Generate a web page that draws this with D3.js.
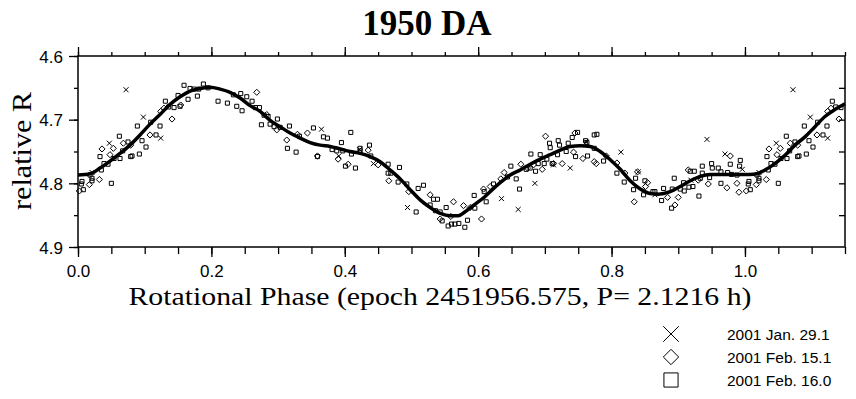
<!DOCTYPE html>
<html>
<head>
<meta charset="utf-8">
<script src="https://cdn.jsdelivr.net/npm/d3@7"></script>
<style>
    body { margin: 0; background: #fff; }
    svg { display: block; }
    .tick text { font-family: "Liberation Sans", Arial, sans-serif; font-size: 17px; fill: #000; }
    .tick line { stroke: #000; stroke-width: 1.3; }
</style>
</head>
<body>
<div id="chart"></div>
<script>
// Values: [rotational phase, relative R]
const jan29 = [
    [0.021,4.783],[0.047,4.737],[0.072,4.653],[0.098,4.696],[0.124,4.729],[0.365,4.715],
    [0.391,4.757],[0.422,4.747],[0.443,4.769],[0.494,4.838],[0.635,4.824],[0.660,4.841],
    [0.685,4.800],[0.713,4.771],[0.738,4.776],[0.762,4.735],[0.814,4.751],[0.840,4.782],
    [0.865,4.818],[0.919,4.795],[0.943,4.731],[0.970,4.754],[0.996,4.778]
];

const feb15 = [
    [0.002,4.812],[0.017,4.802],[0.032,4.794],[0.036,4.746],[0.048,4.755],[0.053,4.745],
    [0.068,4.737],[0.079,4.740],[0.108,4.724],[0.124,4.687],[0.129,4.682],[0.141,4.699],
    [0.154,4.677],[0.268,4.657],[0.283,4.692],[0.298,4.716],[0.313,4.732],[0.329,4.723],
    [0.344,4.721],[0.359,4.757],[0.390,4.762],[0.405,4.770],[0.435,4.748],[0.450,4.771],
    [0.466,4.796],[0.496,4.813],[0.528,4.818],[0.543,4.856],[0.559,4.852],[0.563,4.829],
    [0.578,4.835],[0.588,4.838],[0.605,4.856],[0.608,4.809],[0.618,4.805],[0.634,4.793],
    [0.639,4.783],[0.664,4.770],[0.674,4.776],[0.683,4.771],[0.696,4.778],[0.701,4.726],
    [0.713,4.769],[0.726,4.769],[0.743,4.751],[0.745,4.721],[0.757,4.761],[0.774,4.766],
    [0.777,4.769],[0.792,4.757],[0.808,4.768],[0.820,4.784],[0.834,4.829],[0.839,4.782],
    [0.851,4.805],[0.854,4.799],[0.884,4.822],[0.895,4.834],[0.900,4.822],[0.915,4.779],
    [0.930,4.795],[0.945,4.801],[0.973,4.807],[0.978,4.757],[0.988,4.800],[0.991,4.814]
];

const feb16 = [
    [0.006,4.797],[0.005,4.801],[0.008,4.810],[0.018,4.787],[0.021,4.792],[0.021,4.796],
    [0.033,4.758],[0.035,4.779],[0.039,4.769],[0.045,4.770],[0.050,4.800],[0.054,4.761],
    [0.062,4.726],[0.063,4.761],[0.067,4.749],[0.075,4.735],[0.079,4.758],[0.081,4.757],
    [0.089,4.710],[0.092,4.754],[0.096,4.733],[0.102,4.743],[0.109,4.704],[0.117,4.724],
    [0.123,4.710],[0.131,4.671],[0.136,4.680],[0.144,4.681],[0.150,4.662],[0.153,4.679],
    [0.159,4.646],[0.165,4.668],[0.168,4.651],[0.174,4.652],[0.179,4.663],[0.181,4.652],
    [0.188,4.644],[0.195,4.650],[0.210,4.671],[0.224,4.674],[0.233,4.661],[0.238,4.679],
    [0.244,4.659],[0.246,4.686],[0.253,4.664],[0.261,4.671],[0.266,4.681],[0.272,4.681],
    [0.275,4.708],[0.279,4.693],[0.285,4.695],[0.288,4.707],[0.294,4.711],[0.299,4.699],
    [0.303,4.712],[0.314,4.745],[0.317,4.710],[0.327,4.751],[0.332,4.726],[0.353,4.713],
    [0.359,4.758],[0.368,4.727],[0.374,4.729],[0.381,4.747],[0.388,4.749],[0.395,4.736],
    [0.397,4.749],[0.401,4.773],[0.409,4.720],[0.410,4.754],[0.416,4.776],[0.423,4.745],
    [0.423,4.749],[0.437,4.740],[0.439,4.757],[0.465,4.770],[0.465,4.784],[0.469,4.784],
    [0.480,4.798],[0.482,4.775],[0.493,4.801],[0.507,4.845],[0.510,4.808],[0.518,4.803],
    [0.528,4.834],[0.533,4.825],[0.539,4.825],[0.536,4.843],[0.543,4.845],[0.546,4.859],
    [0.552,4.838],[0.555,4.867],[0.560,4.864],[0.565,4.864],[0.571,4.863],[0.580,4.869],
    [0.584,4.858],[0.594,4.819],[0.595,4.839],[0.609,4.813],[0.612,4.829],[0.623,4.801],
    [0.644,4.790],[0.649,4.773],[0.657,4.793],[0.662,4.809],[0.672,4.778],[0.678,4.776],
    [0.679,4.754],[0.686,4.781],[0.690,4.769],[0.693,4.755],[0.699,4.769],[0.703,4.762],
    [0.707,4.737],[0.708,4.744],[0.711,4.769],[0.719,4.755],[0.720,4.733],[0.722,4.740],
    [0.732,4.750],[0.735,4.737],[0.741,4.728],[0.746,4.758],[0.749,4.720],[0.761,4.733],
    [0.763,4.736],[0.764,4.757],[0.774,4.724],[0.778,4.723],[0.774,4.745],[0.788,4.765],
    [0.808,4.784],[0.819,4.798],[0.833,4.810],[0.836,4.792],[0.848,4.818],[0.850,4.796],
    [0.862,4.813],[0.865,4.813],[0.875,4.827],[0.878,4.808],[0.890,4.839],[0.891,4.809],
    [0.894,4.792],[0.903,4.809],[0.908,4.799],[0.909,4.812],[0.918,4.781],[0.924,4.781],
    [0.916,4.806],[0.922,4.805],[0.931,4.820],[0.933,4.792],[0.936,4.773],[0.936,4.784],
    [0.947,4.791],[0.950,4.769],[0.951,4.776],[0.960,4.776],[0.964,4.782],[0.964,4.800],
    [0.974,4.783],[0.978,4.770],[0.980,4.786],[0.988,4.787],[0.992,4.773],[0.993,4.764]
];

// Fitted light curve
const fitCurve = [
    [0.000,4.787],[0.018,4.785],[0.033,4.776],[0.048,4.765],[0.063,4.753],[0.078,4.740],
    [0.093,4.724],[0.108,4.707],[0.123,4.692],[0.138,4.676],[0.153,4.664],[0.168,4.655],
    [0.183,4.651],[0.198,4.649],[0.213,4.652],[0.228,4.657],[0.243,4.666],[0.258,4.678],
    [0.273,4.687],[0.288,4.701],[0.303,4.711],[0.318,4.721],[0.333,4.729],[0.348,4.736],
    [0.363,4.740],[0.378,4.742],[0.393,4.746],[0.408,4.750],[0.423,4.753],[0.438,4.758],
    [0.453,4.766],[0.468,4.779],[0.483,4.793],[0.498,4.810],[0.513,4.826],[0.528,4.838],
    [0.543,4.847],[0.558,4.851],[0.570,4.851],[0.580,4.845],[0.595,4.833],[0.610,4.821],
    [0.618,4.813],[0.633,4.799],[0.648,4.787],[0.663,4.779],[0.678,4.770],[0.693,4.762],
    [0.708,4.755],[0.723,4.748],[0.738,4.742],[0.753,4.741],[0.768,4.742],[0.783,4.750],
    [0.798,4.763],[0.813,4.778],[0.828,4.796],[0.843,4.809],[0.858,4.816],[0.870,4.817],
    [0.888,4.813],[0.903,4.805],[0.918,4.796],[0.933,4.789],[0.948,4.786],[0.978,4.786],
    [1.007,4.786],[1.018,4.785],[1.030,4.779],[1.045,4.769],[1.060,4.756],[1.075,4.740],
    [1.090,4.727],[1.105,4.711],[1.120,4.695],[1.135,4.684],[1.150,4.675]
];

const xMajorTicks = [0.0, 0.2, 0.4, 0.6, 0.8, 1.0];
const yMajorTicks = [4.6, 4.7, 4.8, 4.9];
const legendLabels = ["2001 Jan. 29.1", "2001 Feb. 15.1", "2001 Feb. 16.0"];

const config = {
    width: 856,
    height: 399,
    plot: { left: 78, right: 845, top: 56, bottom: 247 },
    phaseDomain: [0, 1.15],
    magDomain: [4.6, 4.9],
    serif: "'Liberation Serif', 'Times New Roman', serif"
};

// phases up to 0.15 are plotted again one period later
const wrap = pts => pts.concat(pts.filter(p => p[0] <= config.phaseDomain[1] - 1).map(p => [p[0] + 1, p[1]]));

const x = d3.scaleLinear().domain(config.phaseDomain).range([config.plot.left, config.plot.right]);
const y = d3.scaleLinear().domain(config.magDomain).range([config.plot.top, config.plot.bottom]);

const svg = d3.select("#chart").append("svg")
    .attr("width", config.width)
    .attr("height", config.height);

svg.append("rect").attr("width", config.width).attr("height", config.height).attr("fill", "#fff");

// Axes
const xMinor = d3.range(0, 1.1501, 0.05);
const yMinor = d3.range(4.6, 4.9001, 0.05);

function addAxis(axis, transform) {
    const g = svg.append("g").attr("transform", transform).call(axis);
    g.select(".domain").remove();
    return g;
}

const bottomG = addAxis(d3.axisBottom(x).tickValues(xMajorTicks).tickSize(10).tickFormat(d3.format(".1f")),
    `translate(0,${config.plot.bottom})`);
bottomG.selectAll("text").attr("y", 30).attr("dy", 0);
addAxis(d3.axisBottom(x).tickValues(xMinor).tickSize(7).tickFormat(""), `translate(0,${config.plot.bottom})`);
addAxis(d3.axisTop(x).tickValues(xMajorTicks).tickSize(9).tickFormat(""), `translate(0,${config.plot.top})`);
addAxis(d3.axisTop(x).tickValues(xMinor).tickSize(4).tickFormat(""), `translate(0,${config.plot.top})`);

const leftG = addAxis(d3.axisLeft(y).tickValues(yMajorTicks).tickSize(9).tickFormat(d3.format(".1f")),
    `translate(${config.plot.left},0)`);
leftG.selectAll("text").attr("x", -15).attr("dy", "0.36em");
addAxis(d3.axisLeft(y).tickValues(yMinor).tickSize(4).tickFormat(""), `translate(${config.plot.left},0)`);
addAxis(d3.axisRight(y).tickValues(yMinor.slice(1, -1)).tickSize(-6).tickFormat(""),
    `translate(${config.plot.right},0)`);

// Frame
svg.append("rect")
    .attr("x", config.plot.left)
    .attr("y", config.plot.top)
    .attr("width", config.plot.right - config.plot.left)
    .attr("height", config.plot.bottom - config.plot.top)
    .attr("fill", "none")
    .attr("stroke", "#000")
    .attr("stroke-width", 1.5);

// Data symbols
const series = [
    { data: jan29, type: d3.symbolTimes, size: 18, legendSize: 160 },
    { data: feb15, type: d3.symbolDiamond2, size: 24, legendSize: 150 },
    { data: feb16, type: d3.symbolSquare2, size: 21, legendSize: 255 }
];

const plotArea = svg.append("g");
series.forEach(s => {
    const path = d3.symbol().type(s.type).size(s.size)();
    plotArea.selectAll(null)
        .data(wrap(s.data))
        .enter()
        .append("path")
        .attr("d", path)
        .attr("transform", d => `translate(${x(d[0])},${y(d[1])})`)
        .attr("fill", "none")
        .attr("stroke", "#000")
        .attr("stroke-width", 1);
});

// Fit curve
const line = d3.line()
    .x(d => x(d[0]))
    .y(d => y(d[1]))
    .curve(d3.curveMonotoneX);

svg.append("path")
    .datum(fitCurve)
    .attr("d", line)
    .attr("fill", "none")
    .attr("stroke", "#000")
    .attr("stroke-width", 3.5)
    .attr("stroke-linejoin", "round");

// Titles
svg.append("text")
    .attr("x", 427)
    .attr("y", 35)
    .attr("text-anchor", "middle")
    .style("font-family", config.serif)
    .style("font-weight", "bold")
    .style("font-size", "35px")
    .text("1950 DA");

svg.append("text")
    .attr("x", 440)
    .attr("y", 305)
    .attr("text-anchor", "middle")
    .attr("textLength", 623)
    .attr("lengthAdjust", "spacingAndGlyphs")
    .style("font-family", config.serif)
    .style("font-size", "26px")
    .text("Rotational Phase (epoch 2451956.575, P= 2.1216 h)");

svg.append("text")
    .attr("transform", "translate(31,151) rotate(-90)")
    .attr("text-anchor", "middle")
    .attr("textLength", 118)
    .attr("lengthAdjust", "spacingAndGlyphs")
    .style("font-family", config.serif)
    .style("font-size", "28px")
    .text("relative R");

// Legend
const legend = svg.append("g").attr("transform", "translate(671,334)");
series.forEach((s, i) => {
    const row = legend.append("g").attr("transform", `translate(0,${i * 23})`);
    row.append("path")
        .attr("d", d3.symbol().type(s.type).size(s.legendSize)())
        .attr("fill", "none")
        .attr("stroke", "#000")
        .attr("stroke-width", 1);
    row.append("text")
        .attr("x", 56)
        .attr("dy", "0.36em")
        .style("font-family", "'Liberation Sans', Arial, sans-serif")
        .style("font-size", "15.5px")
        .text(legendLabels[i]);
});
</script>
</body>
</html>
